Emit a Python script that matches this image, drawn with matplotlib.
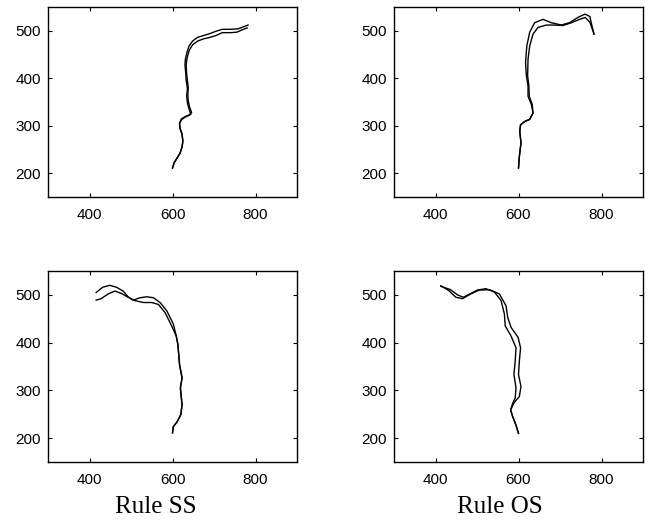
import numpy as np
import matplotlib.pyplot as plt

# --- traced paths (x, y) ---
# top left: two paths, merged in the lower half
tl_a_x = [600, 604, 611, 618, 623, 625, 623, 618, 617, 621, 632, 644, 640, 636, 634, 636, 633, 632,
          630, 631, 635, 640, 648, 660, 675, 690, 705, 720, 740, 758, 770, 782]
tl_a_y = [211, 222, 232, 242, 255, 268, 282, 295, 305, 314, 320, 324, 335, 348, 362, 378, 395, 410,
          428, 440, 455, 468, 478, 486, 490, 494, 499, 503, 503, 504, 508, 512]
tl_b_x = [600, 604, 611, 618, 623, 625, 623, 618, 617, 622, 630, 640, 646, 641, 638, 637, 638, 636,
          634, 633, 635, 640, 648, 660, 675, 690, 705, 720, 740, 755, 768, 780]
tl_b_y = [211, 222, 232, 242, 255, 268, 282, 295, 305, 313, 318, 322, 328, 340, 352, 366, 380, 395,
          410, 428, 442, 458, 470, 478, 483, 486, 490, 496, 496, 497, 502, 506]

# top right
tr_a_x = [600, 602, 606, 603, 605, 615, 627, 635, 631, 623, 623, 619, 617, 620, 627, 639, 659, 679,
          703, 723, 743, 760, 772, 776, 782]
tr_a_y = [211, 235, 264, 288, 302, 309, 314, 327, 345, 362, 384, 405, 433, 468, 497, 517, 524, 517,
          512, 517, 528, 535, 530, 514, 493]
tr_b_x = [600, 602, 606, 603, 605, 615, 627, 635, 633, 626, 625, 622, 623, 627, 635, 647, 667, 687,
          707, 728, 747, 761, 772, 782]
tr_b_y = [211, 235, 264, 288, 302, 309, 313, 327, 345, 362, 384, 405, 440, 468, 493, 507, 512, 512,
          511, 517, 524, 528, 518, 493]

# bottom left
bl_a_x = [600, 602, 611, 620, 623, 619, 623, 617, 615, 613, 609, 602, 586, 570, 554, 538,
          522, 505, 493, 481, 465, 449, 432, 416]
bl_a_y = [211, 224, 234, 249, 270, 305, 326, 354, 375, 396, 414, 439, 467, 484, 494, 496,
          494, 489, 496, 508, 516, 520, 516, 505]
bl_b_x = [600, 602, 611, 620, 623, 619, 623, 617, 615, 613, 609, 598, 582, 566, 550, 530, 509, 493,
          477, 461, 445, 428, 416]
bl_b_y = [211, 224, 234, 249, 270, 305, 326, 354, 375, 396, 414, 435, 463, 480, 484, 484, 488, 495,
          503, 508, 502, 492, 489]

# bottom right
br_a_x = [600, 594, 586, 581, 586, 592, 594, 589, 592, 594, 582, 568, 566, 558, 542, 521, 501, 485,
          467, 453, 436, 413]
br_a_y = [210, 227, 245, 259, 273, 284, 305, 333, 361, 389, 414, 435, 460, 488, 506, 513, 510, 503,
          495, 500, 511, 518]
br_b_x = [600, 594, 586, 581, 590, 602, 606, 600, 602, 605, 599, 582, 574, 570, 554, 530, 505, 485,
          465, 449, 432, 413]
br_b_y = [210, 227, 245, 259, 275, 287, 308, 333, 361, 389, 411, 432, 453, 477, 502, 511, 510, 502,
          492, 495, 509, 519]

panels = [
    ((tl_a_x, tl_a_y), (tl_b_x, tl_b_y)),
    ((tr_a_x, tr_a_y), (tr_b_x, tr_b_y)),
    ((bl_a_x, bl_a_y), (bl_b_x, bl_b_y)),
    ((br_a_x, br_a_y), (br_b_x, br_b_y)),
]
captions = ["Rule SS", "Rule OS"]

fig = plt.figure(figsize=(6.53, 5.21), dpi=100)
W, H = 653, 521
boxes = [(48, 7, 297, 197), (394, 7, 643, 197), (48, 271, 297, 462), (394, 271, 643, 462)]

for (x0, y0, x1, y1), paths in zip(boxes, panels):
    ax = fig.add_axes([x0 / W, 1 - y1 / H, (x1 - x0) / W, (y1 - y0) / H])
    for px, py in paths:
        ax.plot(px, py, color="black", linewidth=1.0)
    ax.set_xlim(300, 900)
    ax.set_ylim(150, 550)
    ax.set_xticks([400, 600, 800])
    ax.set_yticks([200, 300, 400, 500])
    ax.tick_params(direction="in", top=True, right=True, length=3, width=0.8,
                   labelsize=11, pad=5)
    ax.tick_params(axis="x", pad=8)
    for lab in ax.get_xticklabels() + ax.get_yticklabels():
        lab.set_fontfamily("Liberation Sans")
    for s in ax.spines.values():
        s.set_linewidth(1.0)

fig.text(156 / W, 1 - 507 / H, captions[0], ha="center", va="center",
         fontsize=18, fontfamily="Liberation Serif")
fig.text(500 / W, 1 - 507 / H, captions[1], ha="center", va="center",
         fontsize=18, fontfamily="Liberation Serif")

fig.savefig("out.png", dpi=100)
